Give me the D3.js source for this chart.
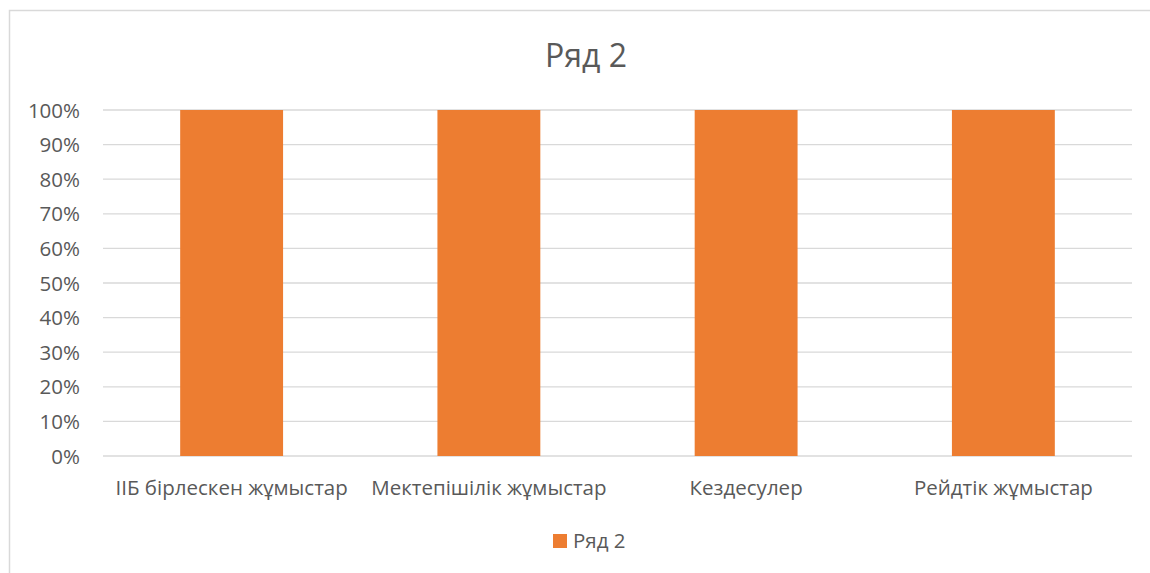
<!DOCTYPE html>
<html>
<head>
<meta charset="utf-8">
<script src="https://cdn.jsdelivr.net/npm/d3@7"></script>
<style>
  body { margin: 0; background: #fff; }
  text { font-family: "Open Sans", "Noto Sans", sans-serif; fill: #595959; }
</style>
</head>
<body>
<div id="chart"></div>
<script>
// chart data
var categories = ["ІІБ бірлескен жұмыстар", "Мектепішілік жұмыстар", "Кездесулер", "Рейдтік жұмыстар"];
var values = [1, 1, 1, 1];
var seriesName = "Ряд 2";
var tickValues = [0, 0.1, 0.2, 0.3, 0.4, 0.5, 0.6, 0.7, 0.8, 0.9, 1];

var svgWidth = 1150;
var svgHeight = 573;

var margin = { top: 110, right: 18, bottom: 117, left: 103 };
var width = svgWidth - margin.left - margin.right;
var height = svgHeight - margin.top - margin.bottom;

var svg = d3.select("#chart")
  .append("svg")
  .attr("width", svgWidth)
  .attr("height", svgHeight);

// chart area border
svg.append("rect")
  .attr("x", 9.5)
  .attr("y", 10.5)
  .attr("width", 1160)
  .attr("height", 600)
  .attr("fill", "none")
  .attr("stroke", "#d9d9d9")
  .attr("stroke-width", 1.5);

// title
svg.append("text")
  .attr("x", 586)
  .attr("y", 67)
  .attr("text-anchor", "middle")
  .style("font-size", "32px")
  .text(seriesName);

var chartGroup = svg.append("g")
  .attr("transform", `translate(${margin.left}, ${margin.top})`);

var xScale = d3.scaleBand()
  .domain(categories)
  .range([0, width])
  .paddingInner(0.6)
  .paddingOuter(0.3);

var yScale = d3.scaleLinear()
  .domain([0, 1])
  .range([height, 0]);

// gridlines
chartGroup.append("g")
  .selectAll("line")
  .data(tickValues)
  .enter()
  .append("line")
  .attr("x1", 0)
  .attr("x2", width)
  .attr("y1", d => yScale(d))
  .attr("y2", d => yScale(d))
  .attr("stroke", "#d9d9d9")
  .attr("stroke-width", 1.3);

// y axis labels
var leftAxis = d3.axisLeft(yScale)
  .tickValues(tickValues)
  .tickFormat(d3.format(".0%"))
  .tickSize(0)
  .tickPadding(23);

var yAxisG = chartGroup.append("g").call(leftAxis);
yAxisG.select(".domain").remove();
yAxisG.selectAll("text")
  .style("font-size", "20.5px")
  .attr("fill", "#595959")
  .attr("dy", "0.35em");

// bars
chartGroup.selectAll("rect.bar")
  .data(values)
  .enter()
  .append("rect")
  .attr("class", "bar")
  .attr("x", (d, i) => xScale(categories[i]))
  .attr("y", d => yScale(d))
  .attr("width", xScale.bandwidth())
  .attr("height", d => height - yScale(d))
  .attr("fill", "#ED7D31");

// x axis labels
var bottomAxis = d3.axisBottom(xScale)
  .tickSize(0)
  .tickPadding(24);

var xAxisG = chartGroup.append("g")
  .attr("transform", `translate(0, ${height})`)
  .call(bottomAxis);
xAxisG.select(".domain").remove();
xAxisG.selectAll("text")
  .style("font-size", "20.5px")
  .attr("fill", "#595959");

// legend
var legend = svg.append("g")
  .attr("transform", "translate(553, 534)");

legend.append("rect")
  .attr("width", 14)
  .attr("height", 14)
  .attr("fill", "#ED7D31");

legend.append("text")
  .attr("x", 20)
  .attr("y", 14)
  .style("font-size", "20.5px")
  .text(seriesName);
</script>
</body>
</html>
